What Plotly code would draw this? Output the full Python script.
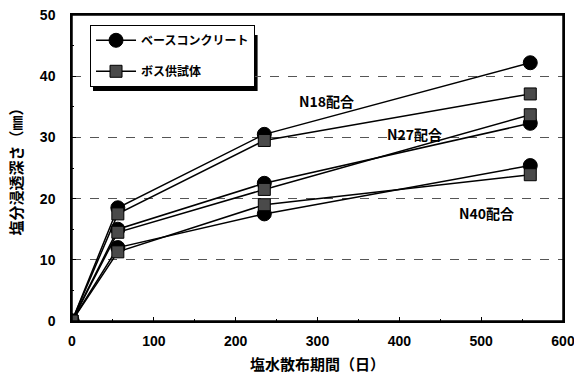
import plotly.graph_objects as go

days = [0, 56, 235, 560]

n18_base = [0, 18.5, 30.5, 42.2]
n18_boss = [0, 17.5, 29.5, 37.1]
n27_base = [0, 15.0, 22.5, 32.3]
n27_boss = [0, 14.5, 21.5, 33.7]
n40_base = [0, 12.0, 17.5, 25.4]
n40_boss = [0, 11.3, 19.0, 23.9]

legend_names = ["ベースコンクリート", "ボス供試体"]
mix_labels = ["N18配合", "N27配合", "N40配合"]
mix_label_pos = [(311, 36.0), (418, 30.5), (507, 17.7)]

x_ticks = [0, 100, 200, 300, 400, 500, 600]
y_ticks = [0, 10, 20, 30, 40, 50]

FONT = "Noto Sans CJK JP"
NUMFONT = "Liberation Sans"

fig = go.Figure()

series = [
    (n18_base, "base"), (n18_boss, "boss"),
    (n27_base, "base"), (n27_boss, "boss"),
    (n40_base, "base"), (n40_boss, "boss"),
]
shown = set()
for vals, kind in series:
    if kind == "base":
        marker = dict(symbol="circle", size=14, color="black",
                      line=dict(color="black", width=1))
        name = legend_names[0]
    else:
        marker = dict(symbol="square", size=12, color="#4a4a4a",
                      line=dict(color="black", width=1))
        name = legend_names[1]
    fig.add_trace(go.Scatter(
        x=days, y=vals, mode="lines+markers", name=name,
        line=dict(color="black", width=1.5), marker=marker,
        showlegend=kind not in shown, legendgroup=kind,
    ))
    shown.add(kind)

for text, (xx, yy) in zip(mix_labels, mix_label_pos):
    fig.add_annotation(x=xx, y=yy, text=text, showarrow=False,
                       font=dict(family=FONT, size=14, color="black", weight="bold"))

fig.update_layout(
    width=574, height=387,
    margin=dict(l=72, r=11, t=15, b=66, autoexpand=False),
    paper_bgcolor="white", plot_bgcolor="white",
    showlegend=True,
    legend=dict(x=0.0367, y=0.968, xanchor="left", yanchor="top",
                bgcolor="white", bordercolor="black", borderwidth=1,
                font=dict(family=FONT, size=12, color="black", weight="bold"),
                itemwidth=40, tracegroupgap=12),
    shapes=[
        dict(type="rect", xref="paper", yref="paper",
             x0=0.0428, x1=0.378, y0=0.752, y1=0.935,
             fillcolor="black", line=dict(width=0), layer="below"),
        dict(type="rect", xref="paper", yref="paper",
             x0=0, x1=1, y0=0, y1=1,
             line=dict(color="black", width=1.5), layer="above"),
    ],
)
fig.update_xaxes(
    range=[0, 600], tickvals=x_ticks, showgrid=False, automargin=False,
    showline=True, linecolor="black", linewidth=1.5, mirror=True,
    ticks="inside", ticklen=4, tickcolor="black",
    minor=dict(ticks="inside", dtick=50, ticklen=2, tickcolor="black"),
    tickfont=dict(family=NUMFONT, size=14, color="black", weight="bold"),
    ticklabelstandoff=6, ticklabeloverflow="allow",
    title=dict(text="塩水散布期間（日）", standoff=12,
               font=dict(family=FONT, size=15, color="black", weight="bold")),
    zeroline=False,
)
fig.update_yaxes(
    range=[0, 50], tickvals=y_ticks, showgrid=True, gridcolor="#555",
    griddash="dash", gridwidth=1, automargin=False,
    showline=True, linecolor="black", linewidth=1.5, mirror=True,
    ticks="inside", ticklen=4, tickcolor="black",
    minor=dict(ticks="inside", dtick=5, ticklen=2, tickcolor="black", showgrid=False),
    tickfont=dict(family=NUMFONT, size=14, color="black", weight="bold"),
    ticklabelstandoff=12, ticklabeloverflow="allow",
    title=dict(text="塩分浸透深さ（㎜）", standoff=14,
               font=dict(family=FONT, size=15, color="black", weight="bold")),
    zeroline=False,
)

fig.write_html(
    "out.html",
    config={"displayModeBar": False},
    post_script="document.body.style.margin='0';document.body.style.overflow='hidden';",
)
